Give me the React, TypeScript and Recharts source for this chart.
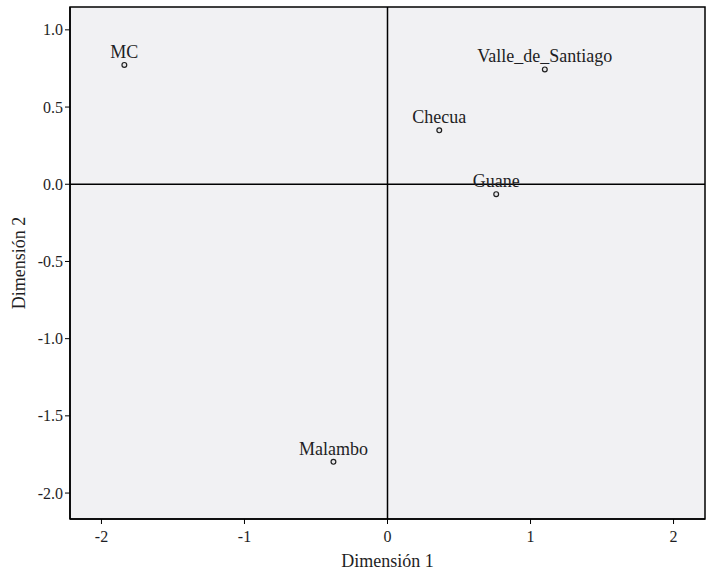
import React from 'react';
import {
  ScatterChart,
  Scatter,
  XAxis,
  YAxis,
  ReferenceArea,
  ReferenceLine,
} from 'recharts';

// object scores
const names = ['MC', 'Valle_de_Santiago', 'Checua', 'Guane', 'Malambo'];
const dim1 = [-1.84, 1.1, 0.362, 0.76, -0.378];
const dim2 = [0.773, 0.744, 0.349, -0.064, -1.798];

const xTicks = [-2, -1, 0, 1, 2];
const yTicks = [1, 0.5, 0, -0.5, -1, -1.5, -2];

const xDomain: [number, number] = [-2.22, 2.22];
const yDomain: [number, number] = [-2.168, 1.148];

const FONT = '"Liberation Serif", "Times New Roman", serif';
const TEXT = '#1e1e24';

const data = names.map((name, i) => ({ name, x: dim1[i], y: dim2[i] }));

const PointMark = (props: any) => {
  const { cx, cy, payload } = props;
  return (
    <g>
      <circle cx={cx} cy={cy} r={2.4} fill="#e8e8ea" stroke="#202020" strokeWidth={1.2} />
      <text
        x={cx}
        y={cy - 7}
        textAnchor="middle"
        fontFamily={FONT}
        fontSize={18}
        fill={TEXT}
      >
        {payload.name}
      </text>
    </g>
  );
};

// tick text drawn by hand so the serif font sticks
const XTick = (props: any) => {
  const { x, y, payload } = props;
  return (
    <text
      x={x}
      y={y + 12}
      textAnchor="middle"
      fontSize={16}
      fill={TEXT}
      style={{ fontFamily: FONT }}
    >
      {payload.value}
    </text>
  );
};

const YTick = (props: any) => {
  const { x, y, payload } = props;
  return (
    <text
      x={x}
      y={y + 5.5}
      textAnchor="end"
      fontSize={16}
      fill={TEXT}
      style={{ fontFamily: FONT }}
    >
      {Number(payload.value).toFixed(1)}
    </text>
  );
};

const App: React.FC = () => {
  return (
    <div style={{ position: 'absolute', left: 0, top: 0, background: '#fff' }}>
      <ScatterChart
        width={712}
        height={573}
        margin={{ top: 7, right: 7, bottom: 0, left: 10 }}
      >
        <XAxis
          type="number"
          dataKey="x"
          domain={xDomain}
          ticks={xTicks}
          allowDataOverflow
          height={54}
          axisLine={{ stroke: '#000', strokeWidth: 1.5 }}
          tickLine={{ stroke: '#000' }}
          tickSize={5}
          tickMargin={6}
          tick={(p: any) => <XTick {...p} />}
          label={{
            value: 'Dimensión 1',
            position: 'insideBottom',
            offset: 6,
            style: { fontFamily: FONT, fontSize: 18, fill: TEXT },
          }}
        />
        <YAxis
          type="number"
          dataKey="y"
          domain={yDomain}
          ticks={yTicks}
          allowDataOverflow
          width={60}
          axisLine={{ stroke: '#000', strokeWidth: 1.5 }}
          tickLine={{ stroke: '#000' }}
          tickSize={5}
          tickMargin={2}
          tick={(p: any) => <YTick {...p} />}
          label={{
            value: 'Dimensión 2',
            angle: -90,
            position: 'insideLeft',
            offset: 9,
            style: { fontFamily: FONT, fontSize: 18, fill: TEXT, textAnchor: 'middle' },
          }}
        />
        <ReferenceArea
          x1={xDomain[0]}
          x2={xDomain[1]}
          y1={yDomain[0]}
          y2={yDomain[1]}
          fill="#f1f1f3"
          fillOpacity={1}
          stroke="#000"
          strokeWidth={1.5}
          ifOverflow="visible"
        />
        <ReferenceLine x={0} stroke="#000" strokeWidth={1.5} />
        <ReferenceLine y={0} stroke="#000" strokeWidth={1.5} />
        <Scatter data={data} shape={PointMark} isAnimationActive={false} />
      </ScatterChart>
    </div>
  );
};

export default App;
